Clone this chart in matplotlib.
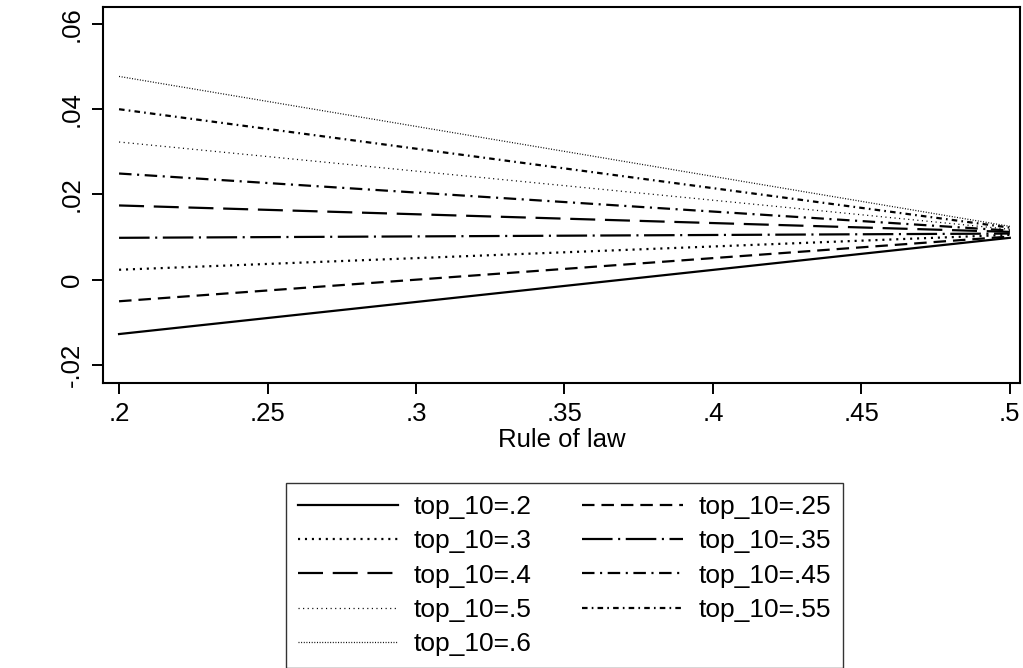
import numpy as np
import matplotlib.pyplot as plt

plt.rcParams['font.family'] = ['Liberation Sans', 'DejaVu Sans']
plt.rcParams['lines.scale_dashes'] = False

# predicted margins at rule of law = .2 and .5
rule_law = [0.2, 0.5]
top10_labels = ['top_10=.2', 'top_10=.25', 'top_10=.3', 'top_10=.35', 'top_10=.4',
                'top_10=.45', 'top_10=.5', 'top_10=.55', 'top_10=.6']
y_start = [-0.0128, -0.0051, 0.0023, 0.0098, 0.0174, 0.0249, 0.0323, 0.0400, 0.0477]
y_end = [0.0098, 0.0101, 0.0105, 0.0108, 0.0112, 0.0115, 0.0118, 0.0122, 0.0125]

styles = [
    dict(lw=1.6, ls='-'),
    dict(lw=1.6, ls=(0, (9, 5))),
    dict(lw=1.6, ls=(0, (1.5, 3.5))),
    dict(lw=1.6, ls=(0, (22, 4, 1.5, 4))),
    dict(lw=1.6, ls=(0, (18, 7))),
    dict(lw=1.6, ls=(0, (9, 4, 1.5, 4))),
    dict(lw=0.9, ls=(0, (0.8, 2.5))),
    dict(lw=1.6, ls=(0, (4, 3, 1.2, 3))),
    dict(lw=0.9, ls=(0, (0.7, 1.2))),
]

fig = plt.figure(figsize=(10.23, 6.68), dpi=100)
ax = fig.add_axes([0.1007, 0.4266, 0.8963, 0.5629])

lines = []
for lab, a, b, st in zip(top10_labels, y_start, y_end, styles):
    ln, = ax.plot(rule_law, [a, b], color='black', label=lab, dash_capstyle='butt', **st)
    lines.append(ln)

ax.set_xlim(0.1946, 0.5034)
ax.set_ylim(-0.0243, 0.064)
ax.set_xticks([0.2, 0.25, 0.3, 0.35, 0.4, 0.45, 0.5])
ax.set_xticklabels(['.2', '.25', '.3', '.35', '.4', '.45', '.5'])
ax.set_yticks([-0.02, 0, 0.02, 0.04, 0.06])
ax.set_yticklabels(['-.02', '0', '.02', '.04', '.06'], rotation=90, va='center')
ax.tick_params(length=8, width=1.4, labelsize=18.5, pad=6)
for s in ax.spines.values():
    s.set_linewidth(1.5)
ax.set_xlabel('Rule of law', fontsize=18.5, labelpad=1)

# stata legend is filled row by row
order = [0, 2, 4, 6, 8, 1, 3, 5, 7]
leg = fig.legend([lines[i] for i in order], [top10_labels[i] for i in order],
                 loc='upper center', bbox_to_anchor=(0.5518, 0.2964), ncol=2,
                 fontsize=19, frameon=True, fancybox=False, edgecolor='black',
                 handlelength=3.8, handletextpad=0.6, columnspacing=1.9,
                 labelspacing=0.39, borderpad=0.45)
leg.get_frame().set_linewidth(1.0)

fig.savefig('out.png', dpi=100)
